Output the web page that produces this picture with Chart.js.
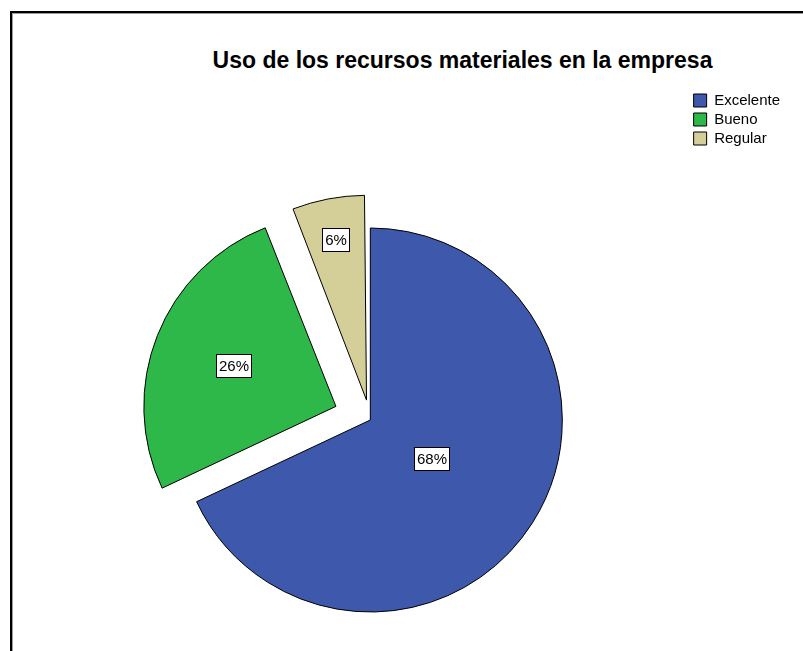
<!DOCTYPE html>
<html>
<head>
<meta charset="utf-8">
<script src="https://cdn.jsdelivr.net/npm/chart.js@4"></script>
<style>
html, body { margin: 0; padding: 0; background: #fff; overflow: hidden; width: 803px; height: 651px; }
#frame { position: absolute; left: 10px; top: 11px; width: 830px; height: 700px; border-top: 2px solid #000; border-left: 2px solid #000; box-shadow: inset 1px 1px 0 #999; }
#title { position: absolute; left: 0; width: 925px; top: 47px; line-height: 23px; text-align: center; font: bold 23px "Liberation Sans", Arial, sans-serif; color: #000; white-space: nowrap; }
#wrap { position: absolute; left: 0; top: 0; width: 803px; height: 760px; }
</style>
</head>
<body>
<div id="frame"></div>
<div id="title">Uso de los recursos materiales en la empresa</div>
<div id="wrap"><canvas id="chart"></canvas></div>
<script>
// data
const categories = ["Excelente", "Bueno", "Regular"];
const shares = [68, 26, 6];

// styles
const colors = ["#3E58AB", "#2EB84A", "#D4CE98"];
const explode = [0, 148, 81];          // slice offsets (px, chart.js units)
const labelRadius = [0.38, 0.57, 0.78]; // where the % boxes sit, fraction of radius
const fontFamily = '"Liberation Sans", Arial, sans-serif';

const sliceLabels = {
    id: "sliceLabels",
    afterDatasetsDraw: (chart)=>{
        let ctx = chart.ctx;
        let meta = chart.getDatasetMeta(0);
        let total = shares.reduce((a, b)=>a+b, 0);
        ctx.save();
        ctx.font = `15px ${fontFamily}`;
        ctx.textAlign = "center";
        ctx.textBaseline = "middle";
        meta.data.forEach((arc, i)=>{
            let p = arc.getProps(["x", "y", "startAngle", "endAngle", "outerRadius", "circumference"], true);
            let mid = (p.startAngle+p.endAngle)/2;
            // same shift chart.js applies to an offset arc
            let shift = explode[i]/4 * (2 - Math.sin(Math.min(Math.PI, p.circumference)));
            let r = shift + labelRadius[i]*p.outerRadius;
            let cx = Math.round(p.x + Math.cos(mid)*r), cy = Math.round(p.y + Math.sin(mid)*r);
            let text = Math.round(shares[i]/total*100) + "%";
            let w = Math.round(ctx.measureText(text).width) + 6, h = 24;
            ctx.fillStyle = "#fff";
            ctx.fillRect(cx-w/2, cy-h/2, w, h);
            ctx.strokeStyle = "#000";
            ctx.lineWidth = 1;
            ctx.strokeRect(cx-w/2+0.5, cy-h/2+0.5, w-1, h-1);
            ctx.fillStyle = "#000";
            ctx.fillText(text, cx, cy+1);
        });
        ctx.restore();
    }
};

new Chart(document.getElementById("chart"), {
    type: "pie",
    data: {
        labels: categories,
        datasets: [{
            data: shares,
            backgroundColor: colors,
            borderColor: "#000",
            borderWidth: 1,
            offset: explode,
            radius: 192,
        }],
    },
    options: {
        responsive: true,
        maintainAspectRatio: false,
        animation: false,
        layout: {
            padding: { left: 51, right: 13, top: 89, bottom: 9 },
        },
        plugins: {
            title: { display: false },
            tooltip: { enabled: false },
            legend: {
                position: "right",
                align: "start",
                labels: {
                    boxWidth: 13,
                    boxHeight: 13,
                    padding: 4,
                    color: "#000",
                    font: { size: 15, family: fontFamily },
                },
            },
        },
    },
    plugins: [sliceLabels],
});
</script>
</body>
</html>
